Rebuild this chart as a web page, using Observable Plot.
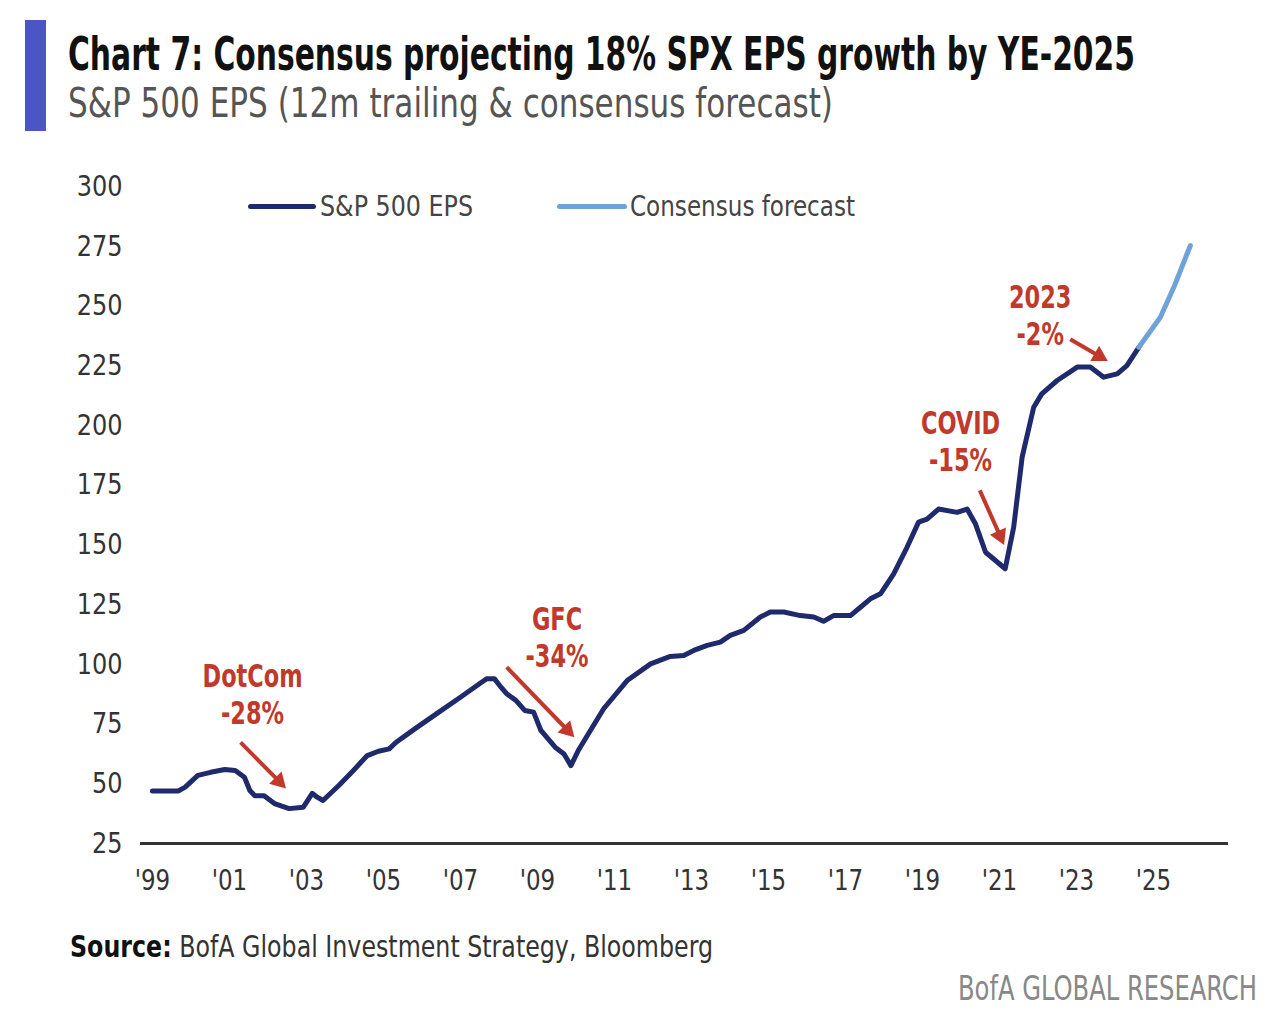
<!DOCTYPE html>
<html><head><meta charset="utf-8">
<script src="https://cdn.jsdelivr.net/npm/d3@7"></script>
<script src="https://cdn.jsdelivr.net/npm/@observablehq/plot@0.6"></script>
<style>
body{margin:0;background:#fff;font-family:"DejaVu Sans Condensed","Liberation Sans Narrow",sans-serif;}
#page{position:relative;width:1281px;height:1015px;overflow:hidden;background:#fff;}
.bar{position:absolute;left:25px;top:20px;width:21px;height:111px;background:#4b55c4;}
.fit{position:absolute;white-space:nowrap;transform-origin:0 0;line-height:1;}
#title{left:68px;top:31px;font-size:46px;font-weight:bold;color:#111;}
#subtitle{left:68px;top:83px;font-size:41px;color:#555;}
#chart{position:absolute;left:0;top:160px;}
.lg{position:absolute;height:5px;border-radius:3px;top:204px;}
.lgt{top:193px;font-size:28px;color:#444;}
#source{left:70px;top:932px;font-size:30px;color:#333;}
#brand{left:958px;top:972px;font-size:33px;color:#888;}
</style></head>
<body>
<div id="page">
  <div class="bar"></div>
  <div id="title" class="fit" data-w="1067">Chart 7: Consensus projecting 18% SPX EPS growth by YE-2025</div>
  <div id="subtitle" class="fit" data-w="765">S&amp;P 500 EPS (12m trailing &amp; consensus forecast)</div>
  <div id="chart"></div>
  <div class="lg" style="left:248px;width:68px;background:#1f2a6c"></div>
  <div class="fit lgt" style="left:320px" data-w="153">S&amp;P 500 EPS</div>
  <div class="lg" style="left:557px;width:70px;background:#6fa3d8"></div>
  <div class="fit lgt" style="left:630px" data-w="225">Consensus forecast</div>
  <div id="source" class="fit" data-w="643"><b style="color:#111">Source:</b> BofA Global Investment Strategy, Bloomberg</div>
  <div id="brand" class="fit" data-w="299">BofA GLOBAL RESEARCH</div>
</div>
<script>
// ---- data ----
const epsYear = [1999.0, 1999.67, 1999.85, 2000.18, 2000.51, 2000.88, 2001.15, 2001.39, 2001.53, 2001.66, 2001.9, 2002.17, 2002.55, 2002.92, 2003.15, 2003.28, 2003.43, 2003.84, 2004.22, 2004.58, 2004.87, 2005.15, 2005.33, 2005.88, 2006.44, 2007.0, 2007.55, 2007.69, 2007.88, 2008.02, 2008.2, 2008.44, 2008.67, 2008.9, 2009.09, 2009.46, 2009.69, 2009.87, 2010.06, 2010.72, 2011.33, 2011.94, 2012.45, 2012.8, 2013.06, 2013.41, 2013.75, 2014.01, 2014.36, 2014.79, 2015.05, 2015.4, 2015.83, 2016.18, 2016.43, 2016.69, 2017.13, 2017.39, 2017.65, 2017.91, 2018.25, 2018.6, 2018.9, 2019.12, 2019.42, 2019.9, 2020.16, 2020.38, 2020.64, 2020.85, 2021.15, 2021.37, 2021.59, 2021.89, 2022.1, 2022.5, 2023.02, 2023.36, 2023.71, 2024.06, 2024.31, 2024.62];
const epsValue = [47, 47, 48.6, 53.5, 54.8, 56, 55.6, 52.7, 47.2, 45, 45, 41.7, 39.6, 40.2, 46, 44.4, 43, 49.3, 55.6, 61.8, 63.6, 64.6, 67.4, 73.7, 80, 86.2, 92.5, 94, 94, 91.1, 87.7, 84.9, 80.7, 80, 72.3, 65.3, 62.5, 57.6, 63.9, 81.4, 93.2, 100.2, 103.3, 103.7, 105.8, 107.9, 109.3, 112.1, 114.2, 119.8, 121.9, 121.9, 120.4, 119.8, 118, 120.4, 120.4, 123.9, 127.4, 129.5, 137.8, 149, 159.5, 160.8, 165, 163.6, 165, 158.7, 146.9, 144.1, 140, 157.4, 186.7, 207.6, 213.2, 218.8, 224.4, 224.4, 220.2, 221.6, 225, 232.7];
const fcYear = [2024.62, 2025.18, 2025.53, 2025.96];
const fcValue = [232.7, 245.3, 257.8, 275.3];
const xTicks = [1999, 2001, 2003, 2005, 2007, 2009, 2011, 2013, 2015, 2017, 2019, 2021, 2023, 2025];
const xTickLabels = ["'99", "'01", "'03", "'05", "'07", "'09", "'11", "'13", "'15", "'17", "'19", "'21", "'23", "'25"];
const yTicks = [25, 50, 75, 100, 125, 150, 175, 200, 225, 250, 275, 300];
const annoLabel = ["DotCom\n-28%", "GFC\n-34%", "COVID\n-15%", "2023\n-2%"];
const annoX = [2001.6, 2009.51, 2019.99, 2022.06];
const annoY = [87.8, 111.6, 193.7, 246.4];
const arrowX1 = [2001.29, 2008.2, 2020.49, 2022.84];
const arrowY1 = [67.3, 98.8, 172.8, 236.1];
const arrowX2 = [2002.45, 2009.94, 2021.11, 2023.79];
const arrowY2 = [48.4, 69.8, 150.4, 227.2];

// ---- build ----
const FONT = '"DejaVu Sans Condensed","Liberation Sans Narrow",sans-serif';
const NAVY = "#1f2a6c", LIGHT = "#6fa3d8", RED = "#c0392b";
const eps = epsYear.map((x, i) => ({x, y: epsValue[i]}));
const fc = fcYear.map((x, i) => ({x, y: fcValue[i]}));
const annos = annoLabel.map((t, i) => ({t, x: annoX[i], y: annoY[i]}));
const arrows = arrowX1.map((x1, i) => ({x1, y1: arrowY1[i], x2: arrowX2[i], y2: arrowY2[i]}));

function makePlot(heads) {
  return Plot.plot({
    width: 1281, height: 740,
    marginLeft: 140, marginRight: 53, marginTop: 26, marginBottom: 57,
    x: {domain: [1998.69, 2026.95]},
    y: {domain: [25, 300]},
    style: {fontFamily: FONT, color: "#333", background: "transparent", overflow: "visible"},
    marks: [
      Plot.axisY({ticks: yTicks, tickSize: 0, tickPadding: 18, fontSize: 29, label: null}),
      Plot.axisX({ticks: xTicks, tickFormat: d => xTickLabels[xTicks.indexOf(d)], tickSize: 0, tickPadding: 26, fontSize: 29, label: null}),
      Plot.ruleY([25], {stroke: "#333", strokeWidth: 3}),
      Plot.line(eps, {x: "x", y: "y", stroke: NAVY, strokeWidth: 5, strokeLinejoin: "round", strokeLinecap: "round"}),
      Plot.line(fc, {x: "x", y: "y", stroke: LIGHT, strokeWidth: 5, strokeLinejoin: "round", strokeLinecap: "round"}),
      Plot.text(annos, {x: "x", y: "y", text: "t", fill: RED, fontSize: 32, fontWeight: "bold", lineHeight: 1.16, lineAnchor: "middle", textAnchor: "middle"}),
      ...(heads ? [
        Plot.link(heads, {x1: "x1", y1: "y1", x2: "hx", y2: "hy", stroke: RED, strokeWidth: 4}),
        Plot.dot(heads, {x: "hx", y: "hy", symbol: "triangle", r: 6.5, fill: RED, stroke: "none", rotate: "rot"})
      ] : [])
    ]
  });
}
const p0 = makePlot(null);
const sx = p0.scale("x"), sy = p0.scale("y");
const heads = arrows.map(a => {
  const X1 = sx.apply(a.x1), Y1 = sy.apply(a.y1), X2 = sx.apply(a.x2), Y2 = sy.apply(a.y2);
  const dx = X2 - X1, dy = Y2 - Y1, L = Math.hypot(dx, dy);
  const back = 9;
  const cx = X2 - dx / L * back, cy = Y2 - dy / L * back;
  return {x1: a.x1, y1: a.y1, hx: sx.invert(cx), hy: sy.invert(cy), rot: Math.atan2(dx, -dy) * 180 / Math.PI};
});
const svg = makePlot(heads);
document.getElementById("chart").appendChild(svg);

// condense text horizontally to mimic the narrow source font
function squeeze(sel, k) {
  svg.querySelectorAll(sel).forEach(t => {
    const tr = t.getAttribute("transform");
    if (tr) {
      t.setAttribute("transform", tr + ` scale(${k},1)`);
    } else {
      const x = +(t.getAttribute("x") || 0), y = +(t.getAttribute("y") || 0);
      t.setAttribute("transform", `translate(${x},${y}) scale(${k},1) translate(${-x},${-y})`);
    }
  });
}
squeeze('g[aria-label="text"] text', 0.78);
squeeze('g[aria-label="y-axis tick label"] text', 0.92);
squeeze('g[aria-label="x-axis tick label"] text', 0.88);

document.querySelectorAll(".fit").forEach(el => {
  const w = el.getBoundingClientRect().width;
  el.style.transform = `scaleX(${(+el.dataset.w) / w})`;
});
</script>
</body></html>
